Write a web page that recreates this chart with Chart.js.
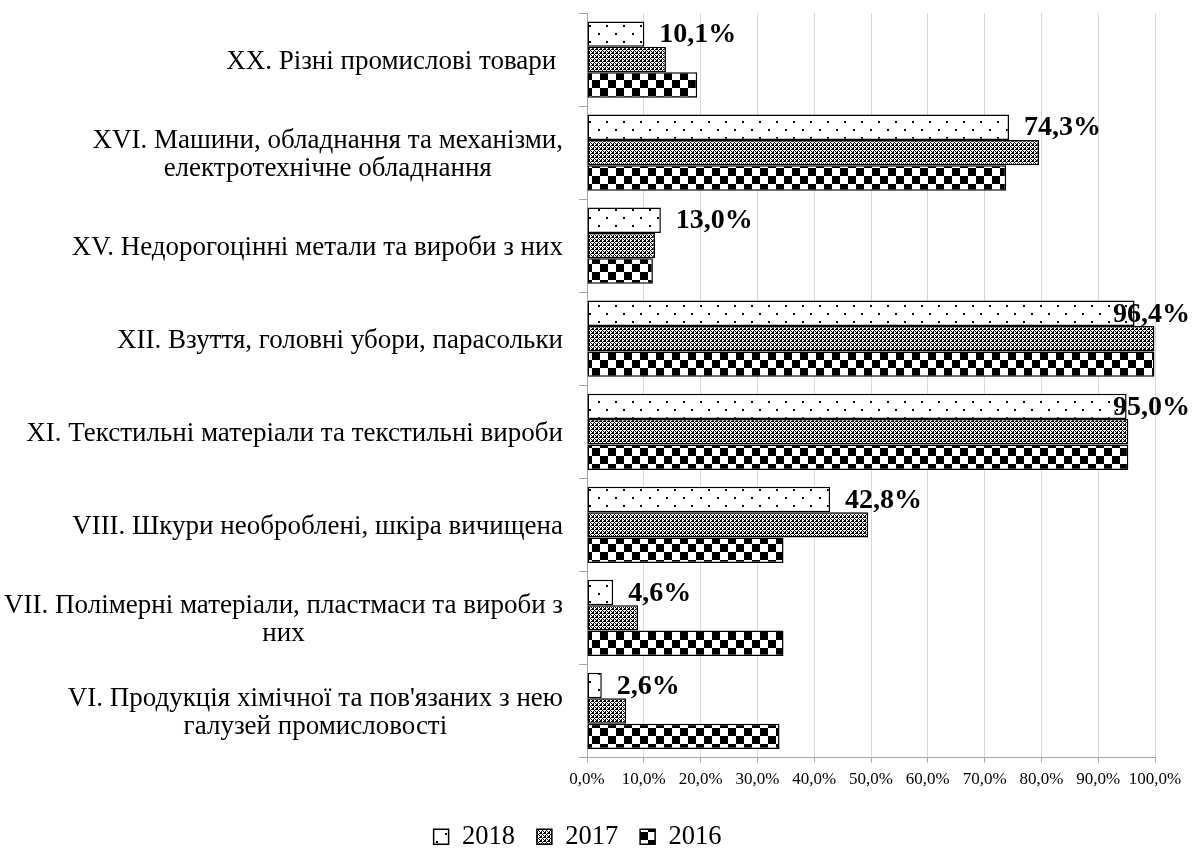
<!DOCTYPE html>
<html>
<head>
<meta charset="utf-8">
<script src="https://cdn.jsdelivr.net/npm/chart.js@4.4.1/dist/chart.umd.min.js"></script>
<style>
    html, body { margin: 0; padding: 0; background: #fff; }
    #wrap { width: 1200px; height: 857px; }
</style>
</head>
<body>
<div id="wrap"><canvas id="chart"></canvas></div>
<script>
// Data
const categories = [
    'XX. Різні промислові товари ',
    ['XVI. Машини, обладнання та механізми,', 'електротехнічне обладнання'],
    'XV. Недорогоцінні метали та вироби з них',
    'XII. Взуття, головні убори, парасольки',
    'XI. Текстильні матеріали та текстильні вироби',
    'VIII. Шкури необроблені, шкіра вичищена',
    ['VII. Полімерні матеріали, пластмаси та вироби з', 'них'],
    ['VI. Продукція хімічної та пов\'язаних з нею', 'галузей промисловості']
];
const years = ['2018', '2017', '2016'];
const values2018 = [10.1, 74.3, 13.0, 96.4, 95.0, 42.8, 4.6, 2.6];
const values2017 = [13.9, 79.6, 12.0, 99.9, 95.3, 49.5, 9.0, 6.9];
const values2016 = [19.4, 73.8, 11.6, 99.9, 95.3, 34.6, 34.6, 33.9];
const xTicks = [0, 10, 20, 30, 40, 50, 60, 70, 80, 90, 100];

const serif = '"Liberation Serif", "Times New Roman", serif';
const fmt = v => v.toFixed(1).replace('.', ',') + '%';

// Patterns
function makePattern(w, h, draw) {
    const c = document.createElement('canvas');
    c.width = w;
    c.height = h;
    const g = c.getContext('2d');
    g.fillStyle = '#fff';
    g.fillRect(0, 0, w, h);
    g.fillStyle = '#000';
    draw(g);
    return document.createElement('canvas').getContext('2d').createPattern(c, 'repeat');
}

const dotPattern = makePattern(17, 16, g => {
    g.fillRect(3, 1, 2, 2);
    g.fillRect(11, 9, 2, 2);
});

const finePattern = makePattern(4, 4, g => {
    [[0, 0], [1, 0], [0, 1], [1, 1], [2, 2], [3, 3], [3, 1], [1, 3]].forEach(p => g.fillRect(p[0], p[1], 1, 1));
});

const checkPattern = makePattern(16, 16, g => {
    g.fillRect(0, 0, 8, 8);
    g.fillRect(8, 8, 8, 8);
});

const fills = [dotPattern, finePattern, checkPattern];
const seriesValues = [values2018, values2017, values2016];

// Category labels: block right aligned, lines centred inside it
const yLabelPlugin = {
    id: 'yLabels',
    afterDraw(chart) {
        const scale = chart.scales.y;
        const ctx = chart.ctx;
        ctx.save();
        ctx.font = '27px ' + serif;
        ctx.fillStyle = '#000';
        ctx.textBaseline = 'middle';
        ctx.textAlign = 'center';
        const right = scale.right - 24;
        const lh = 28;
        categories.forEach((lab, i) => {
            const lines = Array.isArray(lab) ? lab : [lab];
            const w = Math.max(...lines.map(l => ctx.measureText(l).width));
            const cx = right - w / 2;
            const y0 = scale.getPixelForTick(i) - (lines.length - 1) * lh / 2 + 2;
            lines.forEach((l, j) => ctx.fillText(l, cx, y0 + j * lh));
        });
        ctx.restore();
    }
};

// Value labels for 2018 bars
const valueLabelPlugin = {
    id: 'valueLabels',
    afterDatasetsDraw(chart) {
        const ctx = chart.ctx;
        const meta = chart.getDatasetMeta(0);
        ctx.save();
        ctx.font = 'bold 28px ' + serif;
        ctx.fillStyle = '#000';
        ctx.textBaseline = 'middle';
        ctx.textAlign = 'left';
        meta.data.forEach((bar, i) => {
            const txt = fmt(values2018[i]);
            const w = ctx.measureText(txt).width;
            const x = Math.min(bar.x + 15, chart.width - 10 - w);
            ctx.fillText(txt, x, bar.y + 1);
        });
        ctx.restore();
    }
};

new Chart(document.getElementById('chart'), {
    type: 'bar',
    data: {
        labels: categories,
        datasets: years.map((y, i) => ({
            label: y,
            data: seriesValues[i],
            backgroundColor: fills[i],
            borderColor: '#000',
            borderWidth: 1.5,
            borderSkipped: false,
            categoryPercentage: 0.82,
            barPercentage: 1.0
        }))
    },
    options: {
        indexAxis: 'y',
        responsive: true,
        maintainAspectRatio: false,
        animation: false,
        layout: {
            padding: { top: 13, right: 45, bottom: -3, left: 0 }
        },
        scales: {
            x: {
                min: 0,
                max: 100,
                afterBuildTicks: axis => {
                    axis.ticks = xTicks.map(v => ({ value: v }));
                },
                afterFit: axis => {
                    axis.height = 44;
                },
                grid: {
                    color: '#d9d9d9',
                    tickColor: '#a6a6a6',
                    tickLength: 5
                },
                border: { color: '#a6a6a6' },
                ticks: {
                    color: '#000',
                    font: { family: serif, size: 17 },
                    padding: 7,
                    autoSkip: false,
                    maxRotation: 0,
                    callback: v => fmt(v)
                }
            },
            y: {
                afterFit: axis => {
                    axis.width = 587;
                },
                grid: {
                    offset: true,
                    drawOnChartArea: false,
                    tickColor: '#a6a6a6',
                    tickLength: 8
                },
                border: { color: '#a6a6a6' },
                ticks: {
                    color: 'rgba(0,0,0,0)',
                    font: { family: serif, size: 1 }
                }
            }
        },
        plugins: {
            legend: {
                position: 'bottom',
                labels: {
                    color: '#000',
                    font: { family: serif, size: 26.5 },
                    boxWidth: 15,
                    boxHeight: 15,
                    padding: 22
                }
            },
            tooltip: { enabled: false }
        }
    },
    plugins: [yLabelPlugin, valueLabelPlugin]
});
</script>
</body>
</html>
